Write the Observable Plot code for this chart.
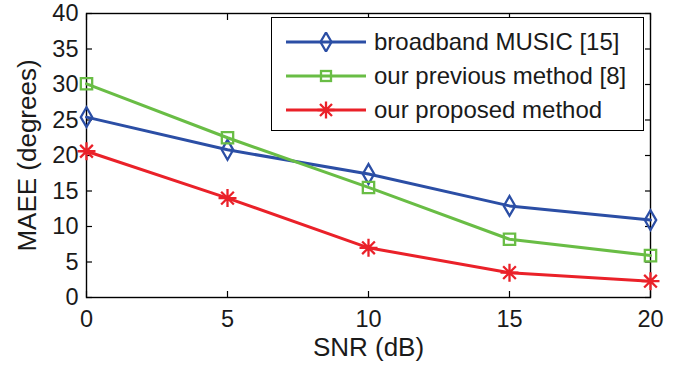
<!DOCTYPE html>
<html>
<head>
<meta charset="utf-8">
<script src="https://cdn.jsdelivr.net/npm/d3@7"></script>
<script src="https://cdn.jsdelivr.net/npm/@observablehq/plot@0.6"></script>
<style>
  html, body { margin: 0; padding: 0; background: #fff; }
  #wrap { position: relative; width: 677px; height: 366px; font-family: "Liberation Sans", Arial, sans-serif; }
  #legend { position: absolute; left: 271px; top: 17px; width: 373px; height: 114px; border: 1.4px solid #000; background: #fff; box-sizing: border-box; }
  .row { position: absolute; left: 14px; height: 34px; display: flex; align-items: center; }
  .row span { font-size: 24px; color: #1a1a1a; margin-left: 8px; white-space: nowrap; }
</style>
</head>
<body>
<div id="wrap"></div>
<script>
const snr = [0, 5, 10, 15, 20];
const music = [25.4, 20.8, 17.4, 12.9, 10.9];
const previous = [30.1, 22.5, 15.5, 8.2, 5.9];
const proposed = [20.6, 14.0, 7.0, 3.5, 2.3];
const seriesNames = ["broadband MUSIC [15]", "our previous method [8]", "our proposed method"];
const colors = ["#2b4ea5", "#69bd45", "#ea2129"];
const xTicks = [0, 5, 10, 15, 20];
const yTicks = [0, 5, 10, 15, 20, 25, 30, 35, 40];
const xLabel = "SNR (dB)";
const yLabel = "MAEE (degrees)";

const asterisk = {
  draw(ctx, size) {
    const a = Math.sqrt(size / Math.PI) * 1.55;
    for (let k = 0; k < 4; k++) {
      const t = k * Math.PI / 4;
      ctx.moveTo(-a * Math.cos(t), -a * Math.sin(t));
      ctx.lineTo(a * Math.cos(t), a * Math.sin(t));
    }
  }
};

const symbols = ["diamond", "square", asterisk];
const radii = [6.0, 6.4, 5.8];
const seriesValues = [music, previous, proposed];
const rows = seriesValues.map((vals, i) => snr.map((x, j) => ({x, y: vals[j], s: i})));

const tickFont = 23.5;
const marks = [
  Plot.frame({stroke: "#000", strokeWidth: 1.4}),
  Plot.axisX(xTicks, {anchor: "bottom", tickSize: -6, tickPadding: 19, fontSize: tickFont, label: null, stroke: "#000", strokeWidth: 1.2}),
  Plot.axisX(xTicks, {anchor: "top", tickSize: -6, tickFormat: () => "", label: null, stroke: "#000", strokeWidth: 1.2}),
  Plot.axisY(yTicks, {anchor: "left", tickSize: -6, tickPadding: 14, fontSize: tickFont, label: null, stroke: "#000", strokeWidth: 1.2}),
  Plot.axisY(yTicks, {anchor: "right", tickSize: -6, tickFormat: () => "", label: null, stroke: "#000", strokeWidth: 1.2}),
  Plot.text([xLabel], {frameAnchor: "bottom", dy: 50, lineAnchor: "middle", textAnchor: "middle", fontSize: 26, fill: "#1a1a1a"}),
  Plot.text([yLabel], {frameAnchor: "left", dx: -59, rotate: -90, lineAnchor: "middle", textAnchor: "middle", fontSize: 26, fill: "#1a1a1a"})
];
rows.forEach((data, i) => {
  marks.push(Plot.line(data, {x: "x", y: "y", stroke: colors[i], strokeWidth: 3}));
  marks.push(Plot.dot(data, {x: "x", y: "y", stroke: colors[i], symbol: symbols[i], r: radii[i], strokeWidth: 2.3, fill: "none"}));
});

const chart = Plot.plot({
  width: 677,
  height: 366,
  marginLeft: 86,
  marginRight: 27,
  marginTop: 13,
  marginBottom: 69,
  x: {domain: [0, 20]},
  y: {domain: [0, 40]},
  style: {fontFamily: "'Liberation Sans', Arial, sans-serif", color: "#1a1a1a", background: "#fff"},
  marks
});
const wrap = document.getElementById("wrap");
wrap.appendChild(chart);

// legend
const legend = document.createElement("div");
legend.id = "legend";
const glyph = (i) => {
  const c = colors[i];
  let m;
  if (i === 0) m = `<path d="M40,0.5 L45.5,10 L40,19.5 L34.5,10 Z" fill="none" stroke="${c}" stroke-width="2.3"/>`;
  else if (i === 1) m = `<rect x="35" y="5" width="10" height="10" fill="none" stroke="${c}" stroke-width="2.3"/>`;
  else m = `<path d="M31.5,10H48.5M40,1.5V18.5M34,4L46,16M34,16L46,4" stroke="${c}" stroke-width="2.3"/>`;
  return `<svg width="80" height="20" style="display:block"><line x1="0" y1="10" x2="80" y2="10" stroke="${c}" stroke-width="3"/>${m}</svg>`;
};
seriesNames.forEach((name, i) => {
  const r = document.createElement("div");
  r.className = "row";
  r.style.top = (7 + i * 34.2) + "px";
  r.innerHTML = glyph(i) + `<span>${name}</span>`;
  legend.appendChild(r);
});
wrap.appendChild(legend);
</script>
</body>
</html>
